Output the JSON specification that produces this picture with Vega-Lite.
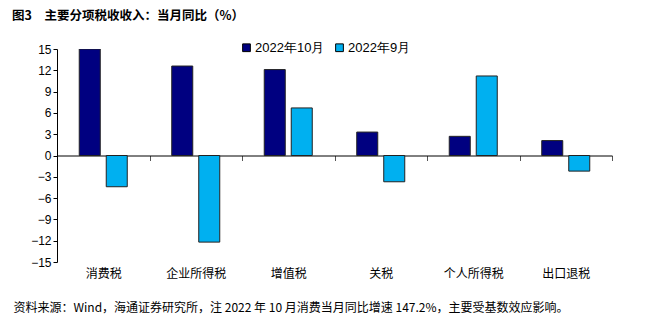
{
  "$schema": "https://vega.github.io/schema/vega-lite/v6.json",
  "width": 555,
  "height": 213,
  "autosize": {"type": "none"},
  "padding": {"left": 57, "top": 49, "right": 38, "bottom": 63},
  "background": "white",
  "title": {
    "text": "图3　主要分项税收收入：当月同比（%）",
    "anchor": "start",
    "frame": "group",
    "dx": -45,
    "offset": 19,
    "font": "Noto Sans CJK SC",
    "fontSize": 12.5,
    "fontWeight": "bold",
    "color": "#000000"
  },
  "config": {
    "view": {"stroke": null},
    "font": "Liberation Sans"
  },
  "data": {
    "values": [
      {"category": "消费税", "series": "2022年10月", "value": 15},
      {"category": "消费税", "series": "2022年9月", "value": -4.4},
      {"category": "企业所得税", "series": "2022年10月", "value": 12.6},
      {"category": "企业所得税", "series": "2022年9月", "value": -12.2},
      {"category": "增值税", "series": "2022年10月", "value": 12.1},
      {"category": "增值税", "series": "2022年9月", "value": 6.7},
      {"category": "关税", "series": "2022年10月", "value": 3.3},
      {"category": "关税", "series": "2022年9月", "value": -3.7},
      {"category": "个人所得税", "series": "2022年10月", "value": 2.7},
      {"category": "个人所得税", "series": "2022年9月", "value": 11.2},
      {"category": "出口退税", "series": "2022年10月", "value": 2.1},
      {"category": "出口退税", "series": "2022年9月", "value": -2.2}
    ]
  },
  "mark": {"type": "bar", "stroke": "#222222", "strokeWidth": 1, "clip": true},
  "encoding": {
    "x": {
      "field": "category",
      "type": "nominal",
      "sort": null,
      "scale": {"paddingInner": 0, "paddingOuter": 0},
      "axis": {
        "title": "资料来源：Wind，海通证券研究所，注 2022 年 10 月消费当月同比增速 147.2%，主要受基数效应影响。",
        "titleFont": "Noto Sans CJK SC",
        "titleFontSize": 12,
        "titleFontWeight": "normal",
        "titleColor": "#000000",
        "titleAnchor": "start",
        "titleAlign": "left",
        "titleBaseline": "middle",
        "titleX": -44,
        "titleY": 152,
        "offset": -106.5,
        "domainColor": "#000000",
        "domainWidth": 1,
        "tickBand": "extent",
        "tickColor": "#555555",
        "tickSize": 5,
        "labelAngle": 0,
        "labelFont": "Noto Sans CJK SC",
        "labelFontSize": 12,
        "labelColor": "#000000",
        "labelPadding": 108,
        "labelDx": 9
      }
    },
    "xOffset": {
      "field": "series",
      "type": "nominal",
      "sort": ["2022年10月", "2022年9月"],
      "scale": {"paddingInner": 0.222, "paddingOuter": 0.824}
    },
    "y": {
      "field": "value",
      "type": "quantitative",
      "scale": {"domain": [-15, 15], "nice": false, "zero": false},
      "axis": {
        "title": null,
        "values": [-15, -12, -9, -6, -3, 0, 3, 6, 9, 12, 15],
        "grid": false,
        "domainColor": "#000000",
        "tickColor": "#000000",
        "tickSize": 4,
        "labelPadding": 2,
        "labelFontSize": 12,
        "labelColor": "#000000",
        "labelFont": "Liberation Sans"
      }
    },
    "color": {
      "field": "series",
      "type": "nominal",
      "sort": ["2022年10月", "2022年9月"],
      "scale": {"domain": ["2022年10月", "2022年9月"], "range": ["#000080", "#00B0F0"]},
      "legend": {
        "title": null,
        "orient": "none",
        "direction": "horizontal",
        "legendX": 183,
        "legendY": -8,
        "symbolType": "square",
        "symbolSize": 60,
        "symbolStrokeColor": "#000000",
        "symbolStrokeWidth": 1,
        "labelFont": "Liberation Sans",
        "labelFontSize": 13,
        "labelColor": "#000000",
        "labelOffset": 2,
        "columnPadding": 8
      }
    }
  }
}
